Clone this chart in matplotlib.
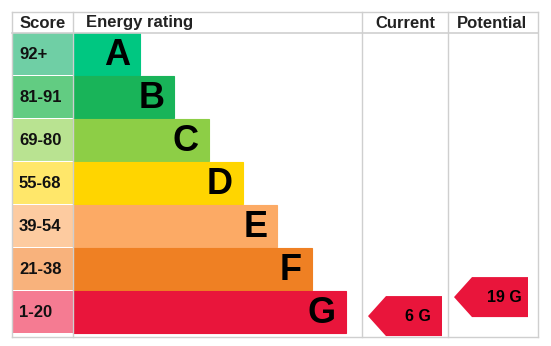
import matplotlib.pyplot as plt
from matplotlib.patches import Rectangle, Polygon

plt.rcParams['font.family'] = ['Liberation Sans', 'DejaVu Sans']

# Rating bands, top to bottom
bands = ["A", "B", "C", "D", "E", "F", "G"]
score_labels = ["92+", "81-91", "69-80", "55-68", "39-54", "21-38", "1-20"]
band_low = [92, 81, 69, 55, 39, 21, 1]
band_high = [100, 91, 80, 68, 54, 38, 20]
bar_colors = ["#00c781", "#19b459", "#8dce46", "#ffd500", "#fcaa65", "#ef8023", "#e9153b"]
score_colors = ["#6fcfa5", "#62cc82", "#b9e391", "#ffe76a", "#fdcba0", "#f8b27c", "#f57b92"]

current_score, current_band = 6, "G"
potential_score, potential_band = 19, "G"

W, H = 551, 346
fig = plt.figure(figsize=(W / 100, H / 100), dpi=100)
ax = fig.add_axes([0, 0, 1, 1])
ax.set_xlim(0, W)
ax.set_ylim(H, 0)
ax.axis("off")

left, score_right, bar_start = 12, 73, 73
top, header_bottom = 12, 33
row_h = 43
bar_step = 34.3
bar_min = 67
cur_l, cur_r, pot_r = 362, 448, 538
bottom = header_bottom + row_h * len(bands)
grid = "#cfcfcf"

for i, (b, s) in enumerate(zip(bands, score_labels)):
    y0 = header_bottom + i * row_h
    ax.add_patch(Rectangle((left, y0), score_right - left, row_h - 1,
                           facecolor=score_colors[i], edgecolor="none"))
    bw = bar_min + bar_step * i
    ax.add_patch(Rectangle((bar_start, y0), bw, row_h - 1, facecolor=bar_colors[i],
                           edgecolor=bar_colors[i], lw=0.8))
    ax.text(left + 7, y0 + row_h / 2, s, ha="left", va="center",
            fontsize=12, fontweight="bold", color="#111111")
    ax.text(bar_start + bw - 10, y0 + row_h / 2 + 1, b, ha="right", va="center",
            fontsize=26, fontweight="bold", color="black")

# header and grid lines
ax.plot([left, pot_r], [top, top], color=grid, lw=1)
ax.plot([left, pot_r], [header_bottom, header_bottom], color=grid, lw=1.2)
ax.plot([left, pot_r], [bottom + 3, bottom + 3], color=grid, lw=1)
for x in (left, score_right, cur_l, cur_r, pot_r):
    ax.plot([x, x], [top, bottom + 3], color=grid, lw=1)

hdr = dict(va="center", fontsize=12, fontweight="bold", color="#222222")
ax.text((left + score_right) / 2, 23, "Score", ha="center", **hdr)
ax.text(86, 23, "Energy rating", ha="left", **hdr)
ax.text((cur_l + cur_r) / 2, 23, "Current", ha="center", **hdr)
ax.text((cur_r + pot_r) / 2 - 1, 23, "Potential", ha="center", **hdr)


def arrow(score, band, x_left, x_right):
    i = bands.index(band)
    lo, hi = band_low[i], band_high[i]
    mid = header_bottom + i * row_h + row_h / 2
    yc = mid + ((lo + hi) / 2 - score) * 1.46 - 3
    h2 = 20
    tip = x_left
    body = x_left + 18
    pts = [(tip, yc), (body, yc - h2), (x_right, yc - h2), (x_right, yc + h2), (body, yc + h2)]
    ax.add_patch(Polygon(pts, closed=True, facecolor=bar_colors[i], edgecolor="none"))
    ax.text((body + x_right) / 2 + 4, yc, f"{score} {band}", ha="center", va="center",
            fontsize=11.5, fontweight="bold", color="black")


arrow(current_score, current_band, 368, 442)
arrow(potential_score, potential_band, 454, 528)

fig.savefig("out.png", dpi=100)
